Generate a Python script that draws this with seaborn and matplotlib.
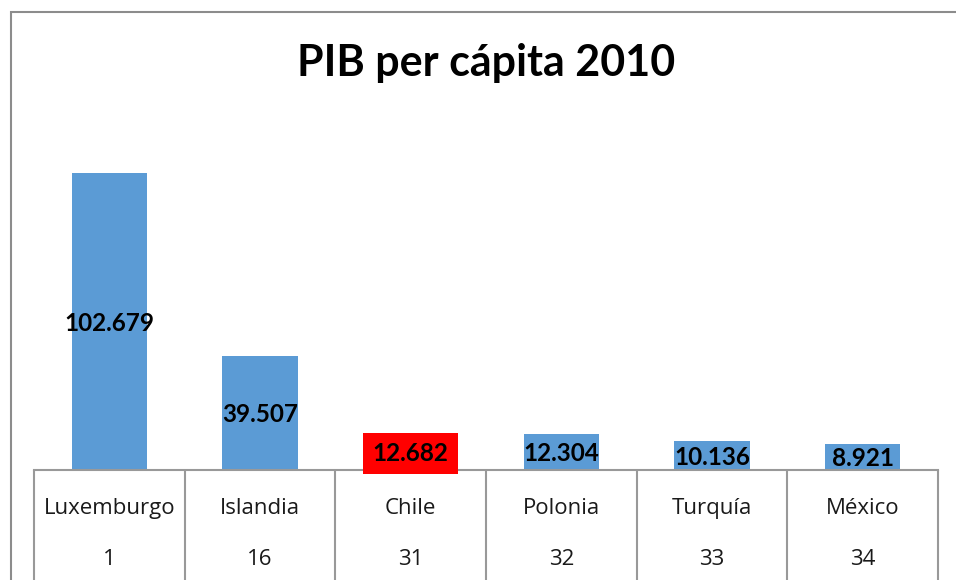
import numpy as np
import pandas as pd
import matplotlib.pyplot as plt
from matplotlib.patches import Rectangle
import seaborn as sns

paises = ['Luxemburgo', 'Islandia', 'Chile', 'Polonia', 'Turquía', 'México']
ranking = [1, 16, 31, 32, 33, 34]
pib = [102679, 39507, 12682, 12304, 10136, 8921]
etiquetas = ['102.679', '39.507', '12.682', '12.304', '10.136', '8.921']
colores = ['#5B9BD5', '#5B9BD5', '#FF0000', '#5B9BD5', '#5B9BD5', '#5B9BD5']

sns.set_style('white')
plt.rcParams['font.family'] = ['Lato', 'DejaVu Sans']

df = pd.DataFrame({'pais': paises, 'pib': pib})

fig = plt.figure(figsize=(9.56, 5.8), dpi=100)
ax = fig.add_axes([34 / 956, 110 / 580, (938 - 34) / 956, 0.788 - 110 / 580])

sns.barplot(ax=ax, data=df, x='pais', y='pib', hue='pais', palette=colores,
            legend=False, width=0.5, saturation=1, edgecolor='none')
ax.set_xlim(-0.5, len(paises) - 0.5)
ax.set_ylim(0, 120000)
ax.set_yticks([])
ax.set_xticks([])
ax.set_xlabel('')
ax.set_ylabel('')
for s in ['top', 'left', 'right']:
    ax.spines[s].set_visible(False)
ax.spines['bottom'].set_color('#999999')
ax.spines['bottom'].set_linewidth(1.5)

# etiquetas de valores centradas en la barra
for i, (v, lab) in enumerate(zip(pib, etiquetas)):
    caja = None
    if paises[i] == 'Chile':
        caja = dict(boxstyle='square,pad=0.38', fc='#FF0000', ec='none')
    ax.text(i, v / 2 - 600, lab, ha='center', va='center', fontsize=17.5, fontweight='bold',
            color='black', bbox=caja)

# eje de categorias en dos niveles
trans = ax.get_xaxis_transform()
ax.vlines(np.arange(len(paises) + 1) - 0.5, -0.32, 0, transform=trans,
          colors='#999999', linewidth=1.5, clip_on=False)
for i, (p, r) in enumerate(zip(paises, ranking)):
    ax.text(i, -0.111, p, transform=trans, ha='center', va='center', fontsize=16,
            color='#1a1a1a', family='Open Sans')
    ax.text(i, -0.258, str(r), transform=trans, ha='center', va='center', fontsize=16,
            color='#1a1a1a', family='Open Sans')

fig.text(486 / 956, 1 - 63 / 580, 'PIB per cápita 2010', ha='center', va='center',
         fontsize=31, fontweight='bold', color='black')

# marco del grafico
fig.patches.append(Rectangle((11 / 956, -0.1), 1.2, 1.1 - 12 / 580, transform=fig.transFigure,
                             fill=False, edgecolor='#8c8c8c', linewidth=1.5))

fig.savefig('out.png', dpi=100)
